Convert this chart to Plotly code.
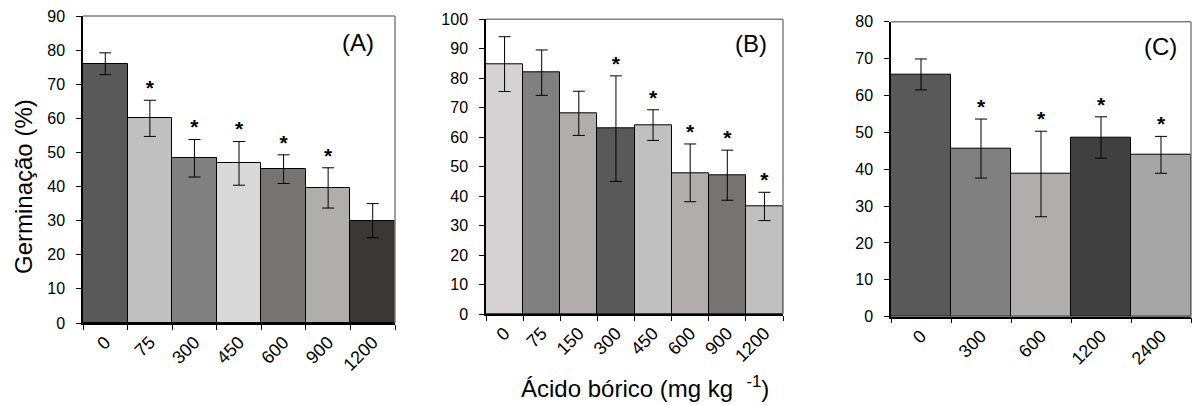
import plotly.graph_objects as go

# Panel A
cat_a = ["0", "75", "300", "450", "600", "900", "1200"]
val_a = [76.0, 60.0, 48.3, 46.8, 45.1, 39.6, 30.0]
err_a = [3.2, 5.3, 5.5, 6.4, 4.2, 5.9, 5.0]
sig_a = [False, True, True, True, True, True, False]
col_a = ["#595959", "#c0c0c0", "#808080", "#d9d9d9", "#777373", "#b0adad", "#3a3836"]

# Panel B
cat_b = ["0", "75", "150", "300", "450", "600", "900", "1200"]
val_b = [84.8, 81.9, 68.1, 62.9, 64.1, 47.9, 47.1, 36.5]
err_b = [9.3, 7.7, 7.5, 17.9, 5.2, 9.8, 8.5, 4.8]
sig_b = [False, False, False, True, True, True, True, True]
col_b = ["#d4d2d2", "#808080", "#b0adad", "#595959", "#c0c0c0", "#b0adad", "#777373", "#c0c0c0"]

# Panel C
cat_c = ["0", "300", "600", "1200", "2400"]
val_c = [65.7, 45.6, 38.7, 48.6, 43.9]
err_c = [4.2, 8.0, 11.6, 5.6, 5.0]
sig_c = [False, True, True, True, True]
col_c = ["#595959", "#808080", "#b0adad", "#404040", "#a6a6a6"]

panel_labels = ["(A)", "(B)", "(C)"]
y_max = [90, 100, 80]

W, H = 1192, 405
FONT = "Liberation Sans, Arial, sans-serif"

panels = [
    (cat_a, val_a, err_a, sig_a, col_a),
    (cat_b, val_b, err_b, sig_b, col_b),
    (cat_c, val_c, err_c, sig_c, col_c),
]

# pixel boxes (left, right, top, bottom)
boxes = [(83, 395, 16, 323), (486, 783, 19.3, 314), (891, 1191, 21.7, 316.7)]
label_pos = [(358, 42), (751, 44), (1160, 47)]

fig = go.Figure()
for i, (cats, vals, errs, sigs, cols) in enumerate(panels):
    xa = "x" if i == 0 else f"x{i+1}"
    ya = "y" if i == 0 else f"y{i+1}"
    fig.add_trace(go.Bar(
        x=cats, y=vals, xaxis=xa, yaxis=ya,
        marker=dict(color=cols, line=dict(color="#000000", width=1)),
        error_y=dict(type="data", array=errs, visible=True, color="#000000",
                     thickness=1, width=6),
        showlegend=False, hoverinfo="skip",
    ))
    sx = [c for c, s in zip(cats, sigs) if s]
    sy = [v + e for v, e, s in zip(vals, errs, sigs) if s]
    fig.add_trace(go.Scatter(
        x=sx, y=sy, xaxis=xa, yaxis=ya, mode="text", text=["<b>*</b>"] * len(sx),
        textposition="top center",
        textfont=dict(family=FONT, size=21, color="#000000"),
        showlegend=False, hoverinfo="skip",
    ))

layout = dict(
    width=W, height=H, margin=dict(l=0, r=0, t=0, b=0, autoexpand=False),
    paper_bgcolor="white", plot_bgcolor="white",
    bargap=0, font=dict(family=FONT, size=16, color="#000000"),
)
for i, (l, r, t, b) in enumerate(boxes):
    kx = "xaxis" if i == 0 else f"xaxis{i+1}"
    ky = "yaxis" if i == 0 else f"yaxis{i+1}"
    xa = "x" if i == 0 else f"x{i+1}"
    ya = "y" if i == 0 else f"y{i+1}"
    layout[kx] = dict(
        domain=[l / W, r / W], anchor=ya, type="category", automargin=False,
        tickson="boundaries", ticks="outside", ticklen=5, tickcolor="#000000",
        showline=True, linecolor="#000000", linewidth=1.5, showgrid=False,
        tickangle=-45, tickfont=dict(size=18), zeroline=False, fixedrange=True,
    )
    layout[ky] = dict(
        domain=[(H - b) / H, (H - t) / H], anchor=xa, automargin=False,
        range=[0, y_max[i]], dtick=10, ticks="outside", ticklen=5,
        tickcolor="#000000", showline=True, linecolor="#000000", linewidth=1.5,
        showgrid=False, zeroline=False, tickfont=dict(size=16), fixedrange=True,
        ticklabelstandoff=8,
    )
fig.update_layout(**layout)

shapes = []
annotations = []
for i, (l, r, t, b) in enumerate(boxes):
    xd = "x domain" if i == 0 else f"x{i+1} domain"
    yd = "y domain" if i == 0 else f"y{i+1} domain"
    shapes.append(dict(type="line", xref=xd, yref=yd, x0=0, x1=1, y0=1, y1=1,
                       line=dict(color="#808080", width=1.5)))
    shapes.append(dict(type="line", xref=xd, yref=yd, x0=1, x1=1, y0=0, y1=1,
                       line=dict(color="#808080", width=1.5)))
    lx, ly = label_pos[i]
    annotations.append(dict(xref="paper", yref="paper", x=lx / W, y=(H - ly) / H,
                            xanchor="center", yanchor="middle", showarrow=False,
                            text=panel_labels[i], font=dict(size=24)))

annotations.append(dict(xref="paper", yref="paper", x=24 / W, y=(H - 187) / H,
                        textangle=-90, showarrow=False, text="Germinação (%)",
                        font=dict(size=24), xanchor="center", yanchor="middle"))
annotations.append(dict(xref="paper", yref="paper", x=645 / W, y=(H - 387) / H,
                        showarrow=False, text="Ácido bórico (mg kg  <sup>-1</sup>)",
                        font=dict(size=24), xanchor="center", yanchor="middle"))
fig.update_layout(shapes=shapes, annotations=annotations)

fig.write_html("out.html", config={"displayModeBar": False},
               post_script="document.body.style.margin='0';document.body.style.overflow='hidden';")
